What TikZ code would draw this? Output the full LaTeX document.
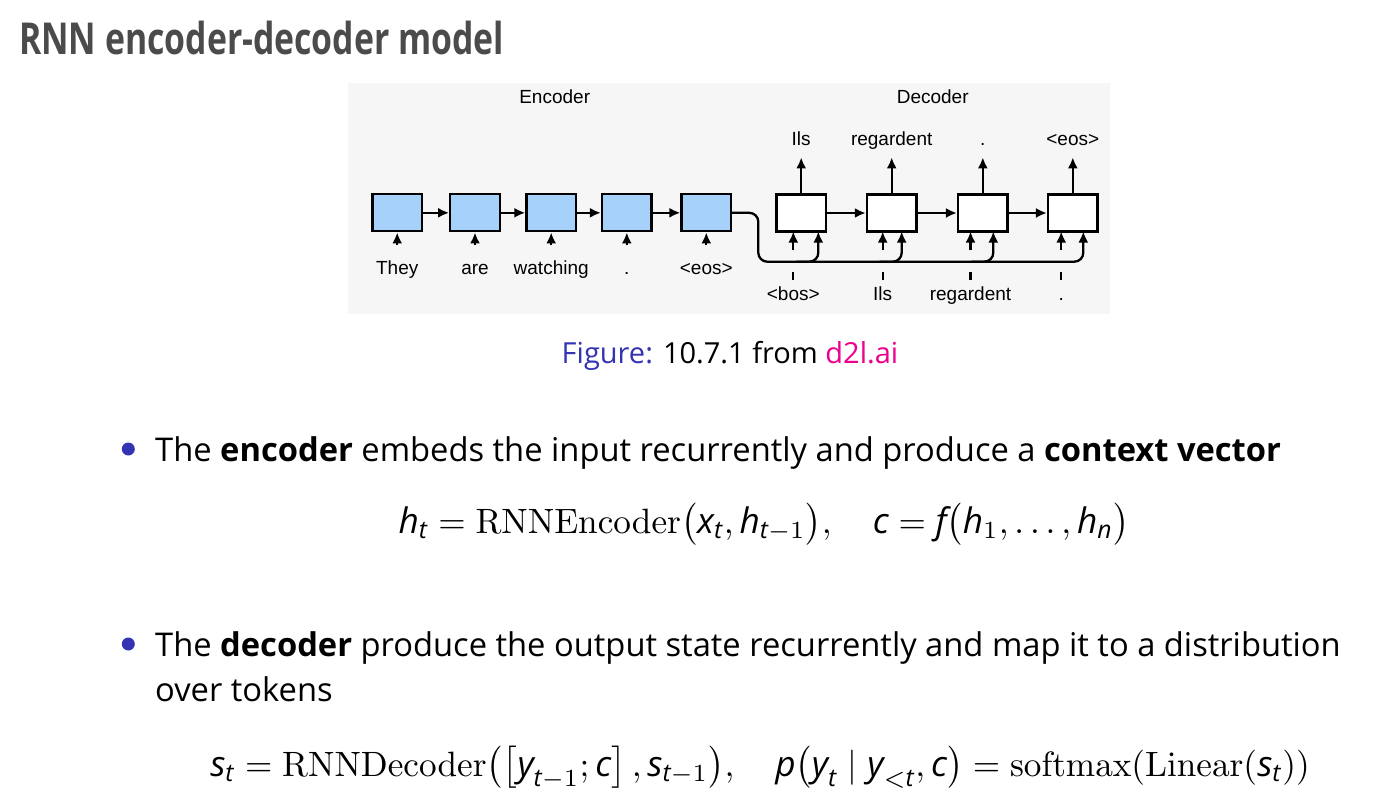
\documentclass[tikz,border=0pt]{standalone}
\usepackage{amsmath}
\usepackage[no-math]{fontspec}
\setmainfont{Open Sans}
\newfontfamily\diagfont{Liberation Sans}
\usetikzlibrary{arrows.meta}
\definecolor{encblue}{RGB}{166,209,250}
\definecolor{figbg}{RGB}{246,246,246}
\definecolor{structblue}{RGB}{51,51,179}
\definecolor{linkpink}{RGB}{236,0,140}
\definecolor{titlegray}{RGB}{75,75,75}
\newcommand\mi[1]{\text{\normalfont\itshape #1}}
\newcommand\bodysize{\fontsize{32.7}{44.3}\selectfont}
\newcommand\capsize{\fontsize{29}{36}\selectfont}
\newcommand\titlesize{\fontsize{44}{52}\selectfont}
\newcommand\dsize{\fontsize{19}{23}\selectfont}
\tikzset{
  ebox/.style={draw, line width=2.3pt, fill=encblue, minimum width=49.5pt, minimum height=37pt, inner sep=0pt},
  dbox/.style={ebox, fill=white},
  arr/.style={line width=2.3pt, -{Latex[length=11pt,width=10pt]}},
  tick/.style={line width=2.3pt},
  dlbl/.style={font=\diagfont\dsize, inner sep=0pt, anchor=base},
  body/.style={font=\bodysize, inner sep=0pt, anchor=base west},
  eq/.style={font=\normalsize, inner sep=0pt, anchor=base, scale=3.52},
  bullet/.style={circle, fill=structblue, minimum size=13pt, inner sep=0pt},
}
\begin{document}
\begin{tikzpicture}[x=1pt,y=-1pt]
\useasboundingbox (0,0) rectangle (1389,804);
\fill[white] (0,0) rectangle (1389,804);

% title
\node[inner sep=0pt, anchor=base west, text=titlegray, font=\titlesize\bfseries] (title) at (19,54)
  {\scalebox{0.768}[1]{RNN encoder-decoder model}};

% figure background
\fill[figbg] (348,83) rectangle (1110,314);

\node[dlbl] (enclbl) at (554.7,103.5) {Encoder};
\node[dlbl] (declbl) at (932.7,103.5) {Decoder};

% encoder boxes
\node[ebox] (e1) at (397.2,212.8) {};
\node[ebox] (e2) at (475,212.8) {};
\node[ebox] (e3) at (551.2,212.8) {};
\node[ebox] (e4) at (626.8,212.8) {};
\node[ebox] (e5) at (706.3,212.8) {};
\foreach \a/\b in {e1/e2,e2/e3,e3/e4,e4/e5} \draw[arr] (\a.east) -- (\b.west);

% encoder inputs
\foreach \n/\t in {e1/They,e2/are,e3/watching,e4/.,e5/<eos>}{
  \coordinate (\n in) at ([yshift=-13pt]\n.south);
  \draw[arr] (\n in) -- (\n.south);
  \node[dlbl] (\n lbl) at ([yshift=-42pt]\n.south) {\t};
}

% decoder boxes
\node[dbox] (d1) at (801.2,213) {};
\node[dbox] (d2) at (891.7,213) {};
\node[dbox] (d3) at (982.8,213) {};
\node[dbox] (d4) at (1072.8,213) {};
\foreach \a/\b in {d1/d2,d2/d3,d3/d4} \draw[arr] (\a.east) -- (\b.west);

% decoder outputs
\foreach \n/\t in {d1/Ils,d2/regardent,d3/.,d4/<eos>}{
  \coordinate (\n out) at ([yshift=36pt]\n.north);
  \draw[arr] (\n.north) -- (\n out);
  \node[dlbl] (\n olbl) at ([yshift=11.5pt]\n out) {\t};
}

% decoder inputs (left) with ticks and labels
\foreach \n/\x/\t in {d1/793.3/<bos>,d2/882.7/Ils,d3/970.5/regardent,d4/1061.2/.}{
  \coordinate (\n inS) at (\x,250);
  \coordinate (\n inE) at (\x,231.5);
  \draw[arr] (\n inS) -- (\n inE);
  \coordinate (\n tA) at (\x,272);
  \coordinate (\n tB) at (\x,280);
  \draw[tick] (\n tA) -- (\n tB);
  \node[dlbl] (\n ilbl) at (\x,300) {\t};
}

% context connector
\coordinate (k1) at (758.3,212.8);
\coordinate (k2) at (758.3,261.7);
\coordinate (k3) at (1083.3,261.7);
\coordinate (d4c) at (1083.3,231.5);
\draw[arr, rounded corners=9pt] (e5.east) -- (k1) -- (k2) -- (k3) -- (d4c);
\foreach \n/\x in {d1/818.3,d2/901.7,d3/993.3}{
  \coordinate (\n cS) at (\x-22,261.7);
  \coordinate (\n cE) at (\x,231.5);
  \draw[arr, rounded corners=9pt] (\n cS) -| (\n cE);
}

% caption
\node[inner sep=0pt, anchor=base, font=\capsize] (caption) at (730,363)
  {\textcolor{structblue}{Figure:} 10.7.1 from \textcolor{linkpink}{d2l.ai}};

% bullet 1
\node[bullet] (b1) at (128.3,449) {};
\node[body] (t1) at (155,461) {The \textbf{encoder} embeds the input recurrently and produce a \textbf{context vector}};
\node[eq] (f1) at (764,533)
  {$\displaystyle \mi{h}_{\mi{t}} = \mathrm{RNNEncoder}\bigl(\mi{x}_{\mi{t}}, \mi{h}_{\mi{t}-1}\bigr),\quad \mi{c} = \mi{f}\bigl(\mi{h}_1, \ldots, \mi{h}_{\mi{n}}\bigr)$};

% bullet 2
\node[bullet] (b2) at (128.3,644) {};
\node[body] (t2a) at (155,656.7) {The \textbf{decoder} produce the output state recurrently and map it to a distribution};
\node[body] (t2b) at (155,701) {over tokens};
\node[eq] (f2) at (760,776)
  {$\displaystyle \mi{s}_{\mi{t}} = \mathrm{RNNDecoder}\bigl(\bigl[\mi{y}_{\mi{t}-1}; \mi{c}\bigr]\,, \mi{s}_{\mi{t}-1}\bigr),\quad \mi{p}\bigl(\mi{y}_{\mi{t}} \mid \mi{y}_{<\mi{t}}, \mi{c}\bigr) = \mathrm{softmax}(\mathrm{Linear}(\mi{s}_{\mi{t}}))$};
\end{tikzpicture}
\end{document}
